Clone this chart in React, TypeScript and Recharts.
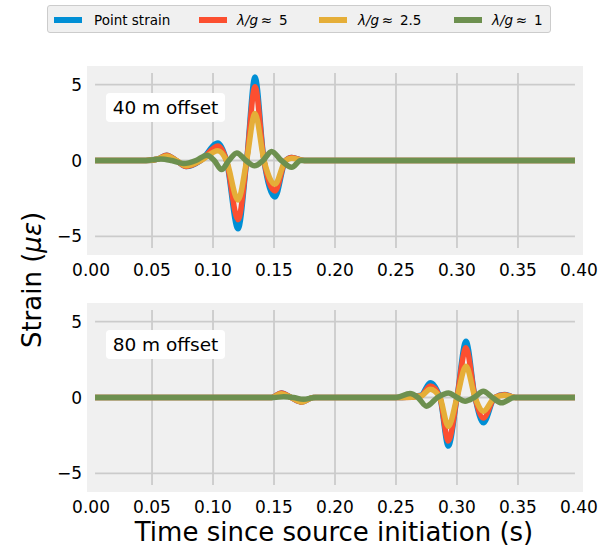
import React from 'react';
import { LineChart, Line, XAxis, YAxis, ReferenceLine } from 'recharts';

const FONT = '"DejaVu Sans", sans-serif';

// ---------- axes ----------
const xTicks = [0, 0.05, 0.1, 0.15, 0.2, 0.25, 0.3, 0.35, 0.4];
const xGridTicks = [0.05, 0.1, 0.15, 0.2, 0.25, 0.3, 0.35];
const yTicks = [-5, 0, 5];
const xDomain = [-0.0033, 0.4033];
const yDomain = [-6.22, 6.22];
const gridXSpan = [0.0033, 0.3967];
const gridYSpan = [-5.76, 5.76];

// ---------- series names / colours ----------
const seriesNames = ['Point strain', '5', '2.5', '1'];
const seriesColors = ['#008fd5', '#fc4f30', '#e5ae38', '#6d904f'];

// ---------- top panel: 40 m offset ----------
const topT = [0.0033, 0.045, 0.055, 0.062, 0.07, 0.078, 0.09, 0.104, 0.111, 0.1205, 0.1276, 0.1344, 0.1418, 0.1508, 0.1595, 0.1645, 0.175, 0.3967];
const topPoint = [0, 0, 0.1, 0.35, 0, -0.4, 0, 1.15, 0, -4.5, 0, 5.5, 0, -2.4, 0, 0.2, 0, 0];
const topR5 = [0, 0, 0.1, 0.35, 0, -0.4, 0, 0.95, 0, -3.9, 0, 4.85, 0, -2.0, 0, 0.2, 0, 0];
const topR25 = [0, 0, 0.1, 0.3, 0, -0.35, 0, 0.65, 0, -2.6, 0, 3.1, 0, -1.55, 0, 0.15, 0, 0];
const topGreenT = [0.0033, 0.045, 0.057, 0.066, 0.076, 0.086, 0.095, 0.101, 0.107, 0.113, 0.1195, 0.127, 0.134, 0.141, 0.148, 0.156, 0.1645, 0.172, 0.18, 0.3967];
const topR1 = [0, 0, 0.1, 0, -0.2, 0, 0.35, 0, -0.6, 0, 0.5, 0, -0.35, 0, 0.6, 0, -0.45, 0, 0, 0];

// ---------- bottom panel: 80 m offset ----------
const botT = [0.0033, 0.148, 0.156, 0.164, 0.173, 0.182, 0.255, 0.2705, 0.278, 0.286, 0.2929, 0.3, 0.3074, 0.3148, 0.3216, 0.331, 0.339, 0.348, 0.3967];
const botPoint = [0, 0, 0.3, 0, -0.3, 0, 0, 0.15, 0.97, 0, -3.2, 0, 3.7, 0, -1.67, 0, 0.2, 0, 0];
const botR5 = [0, 0, 0.3, 0, -0.3, 0, 0, 0.12, 0.75, 0, -2.87, 0, 3.27, 0, -1.35, 0, 0.18, 0, 0];
const botR25 = [0, 0, 0.25, 0, -0.3, 0, 0, 0.1, 0.55, 0, -1.9, 0, 2.06, 0, -0.9, 0, 0.15, 0, 0];
const botGreenT = [0.0033, 0.15, 0.158, 0.166, 0.174, 0.184, 0.25, 0.2615, 0.268, 0.275, 0.284, 0.293, 0.3, 0.3066, 0.314, 0.3216, 0.329, 0.3366, 0.347, 0.3967];
const botR1 = [0, 0, 0.05, 0, -0.12, 0, 0, 0.26, 0, -0.57, 0, 0.3, 0, -0.24, 0, 0.41, 0, -0.35, 0, 0];

const toRows = (t: number[], v: number[]) => t.map((x, i) => ({ t: x, v: v[i] }));

const topSeries = [toRows(topT, topPoint), toRows(topT, topR5), toRows(topT, topR25), toRows(topGreenT, topR1)];
const botSeries = [toRows(botT, botPoint), toRows(botT, botR5), toRows(botT, botR25), toRows(botGreenT, botR1)];

const fmtY = (v: number) => (v < 0 ? `\u2212${-v}` : `${v}`);
const fmtX = (v: number) => v.toFixed(2);

function Panel({ series, label, top }: { series: { t: number; v: number }[][]; label: string; top: number }) {
  return (
    <div style={{ position: 'absolute', left: 0, top, width: 600, height: 300 }}>
      <div style={{ position: 'absolute', left: 87, top: 66, width: 496, height: 189, background: '#f0f0f0' }} />
      <div style={{ position: 'absolute', left: 0, top: 0 }}>
        <LineChart width={600} height={300} margin={{ top: 66, right: 17, bottom: 15, left: 0 }}>
          <XAxis
            type="number"
            dataKey="t"
            domain={xDomain}
            ticks={xTicks}
            allowDataOverflow
            interval={0}
            tickFormatter={fmtX}
            axisLine={false}
            tickLine={false}
            tickSize={0}
            tickMargin={9}
            height={30}
            tick={{ fill: '#000', fontSize: 17, fontFamily: FONT }}
          />
          <YAxis
            type="number"
            dataKey="v"
            domain={yDomain}
            ticks={yTicks}
            allowDataOverflow
            interval={0}
            tickFormatter={fmtY}
            axisLine={false}
            tickLine={false}
            tickSize={0}
            tickMargin={5}
            width={87}
            tick={{ fill: '#000', fontSize: 17, fontFamily: FONT }}
          />
          {xGridTicks.map((x) => (
            <ReferenceLine
              key={'gx' + x}
              segment={[{ x, y: gridYSpan[0] }, { x, y: gridYSpan[1] }]}
              stroke="#cbcbcb"
              strokeWidth={1.8}
            />
          ))}
          {yTicks.map((y) => (
            <ReferenceLine
              key={'gy' + y}
              segment={[{ x: gridXSpan[0], y }, { x: gridXSpan[1], y }]}
              stroke="#cbcbcb"
              strokeWidth={1.8}
            />
          ))}
          {series.map((d, i) => (
            <Line
              key={seriesNames[i]}
              data={d}
              dataKey="v"
              type="monotone"
              stroke={seriesColors[i]}
              strokeWidth={5.5}
              dot={false}
              activeDot={false}
              isAnimationActive={false}
            />
          ))}
        </LineChart>
      </div>
      <div
        style={{
          position: 'absolute',
          left: 106,
          top: 93,
          width: 119,
          height: 29,
          background: '#fff',
          borderRadius: 4,
          fontFamily: FONT,
          fontSize: 18.5,
          lineHeight: '29px',
          textAlign: 'center',
          color: '#000',
        }}
      >
        {label}
      </div>
    </div>
  );
}

function LegendItem({ x, tx, color, children }: { x: number; tx: number; color: string; children: React.ReactNode }) {
  return (
    <>
      <div style={{ position: 'absolute', left: x - 47, top: 11, width: 28, height: 6, background: color }} />
      <div
        style={{
          position: 'absolute',
          left: tx - 47,
          top: 0,
          height: 28,
          lineHeight: '28px',
          fontFamily: FONT,
          fontSize: 13.5,
          color: '#000',
          whiteSpace: 'nowrap',
        }}
      >
        {children}
      </div>
    </>
  );
}

export default function App() {
  return (
    <div style={{ position: 'absolute', left: 0, top: 0, width: 600, height: 552, background: '#fff', overflow: 'hidden' }}>
      <Panel series={topSeries} label="40 m offset" top={0} />
      <Panel series={botSeries} label="80 m offset" top={237} />
      <div
        style={{
          position: 'absolute',
          left: 47,
          top: 5,
          width: 502,
          height: 26,
          background: '#f0f0f0',
          border: '1px solid #cccccc',
          borderRadius: 3,
        }}
      >
        <LegendItem x={53} tx={93} color={seriesColors[0]}>{seriesNames[0]}</LegendItem>
        <LegendItem x={198} tx={236} color={seriesColors[1]}>
          <i>λ/g</i>{'\u2009≈\u2002'}{seriesNames[1]}
        </LegendItem>
        <LegendItem x={318} tx={357} color={seriesColors[2]}>
          <i>λ/g</i>{'\u2009≈\u2002'}{seriesNames[2]}
        </LegendItem>
        <LegendItem x={453} tx={491} color={seriesColors[3]}>
          <i>λ/g</i>{'\u2009≈\u2002'}{seriesNames[3]}
        </LegendItem>
      </div>
      <svg width={600} height={552} style={{ position: 'absolute', left: 0, top: 0, pointerEvents: 'none' }}>
        <text x={334} y={541} textAnchor="middle" fontFamily={FONT} fontSize={26} fill="#000">
          Time since source initiation (s)
        </text>
        <text transform="rotate(-90)" x={-280} y={41} textAnchor="middle" fontFamily={FONT} fontSize={26} fill="#000">
          Strain (<tspan fontStyle="italic">με</tspan>)
        </text>
      </svg>
    </div>
  );
}
